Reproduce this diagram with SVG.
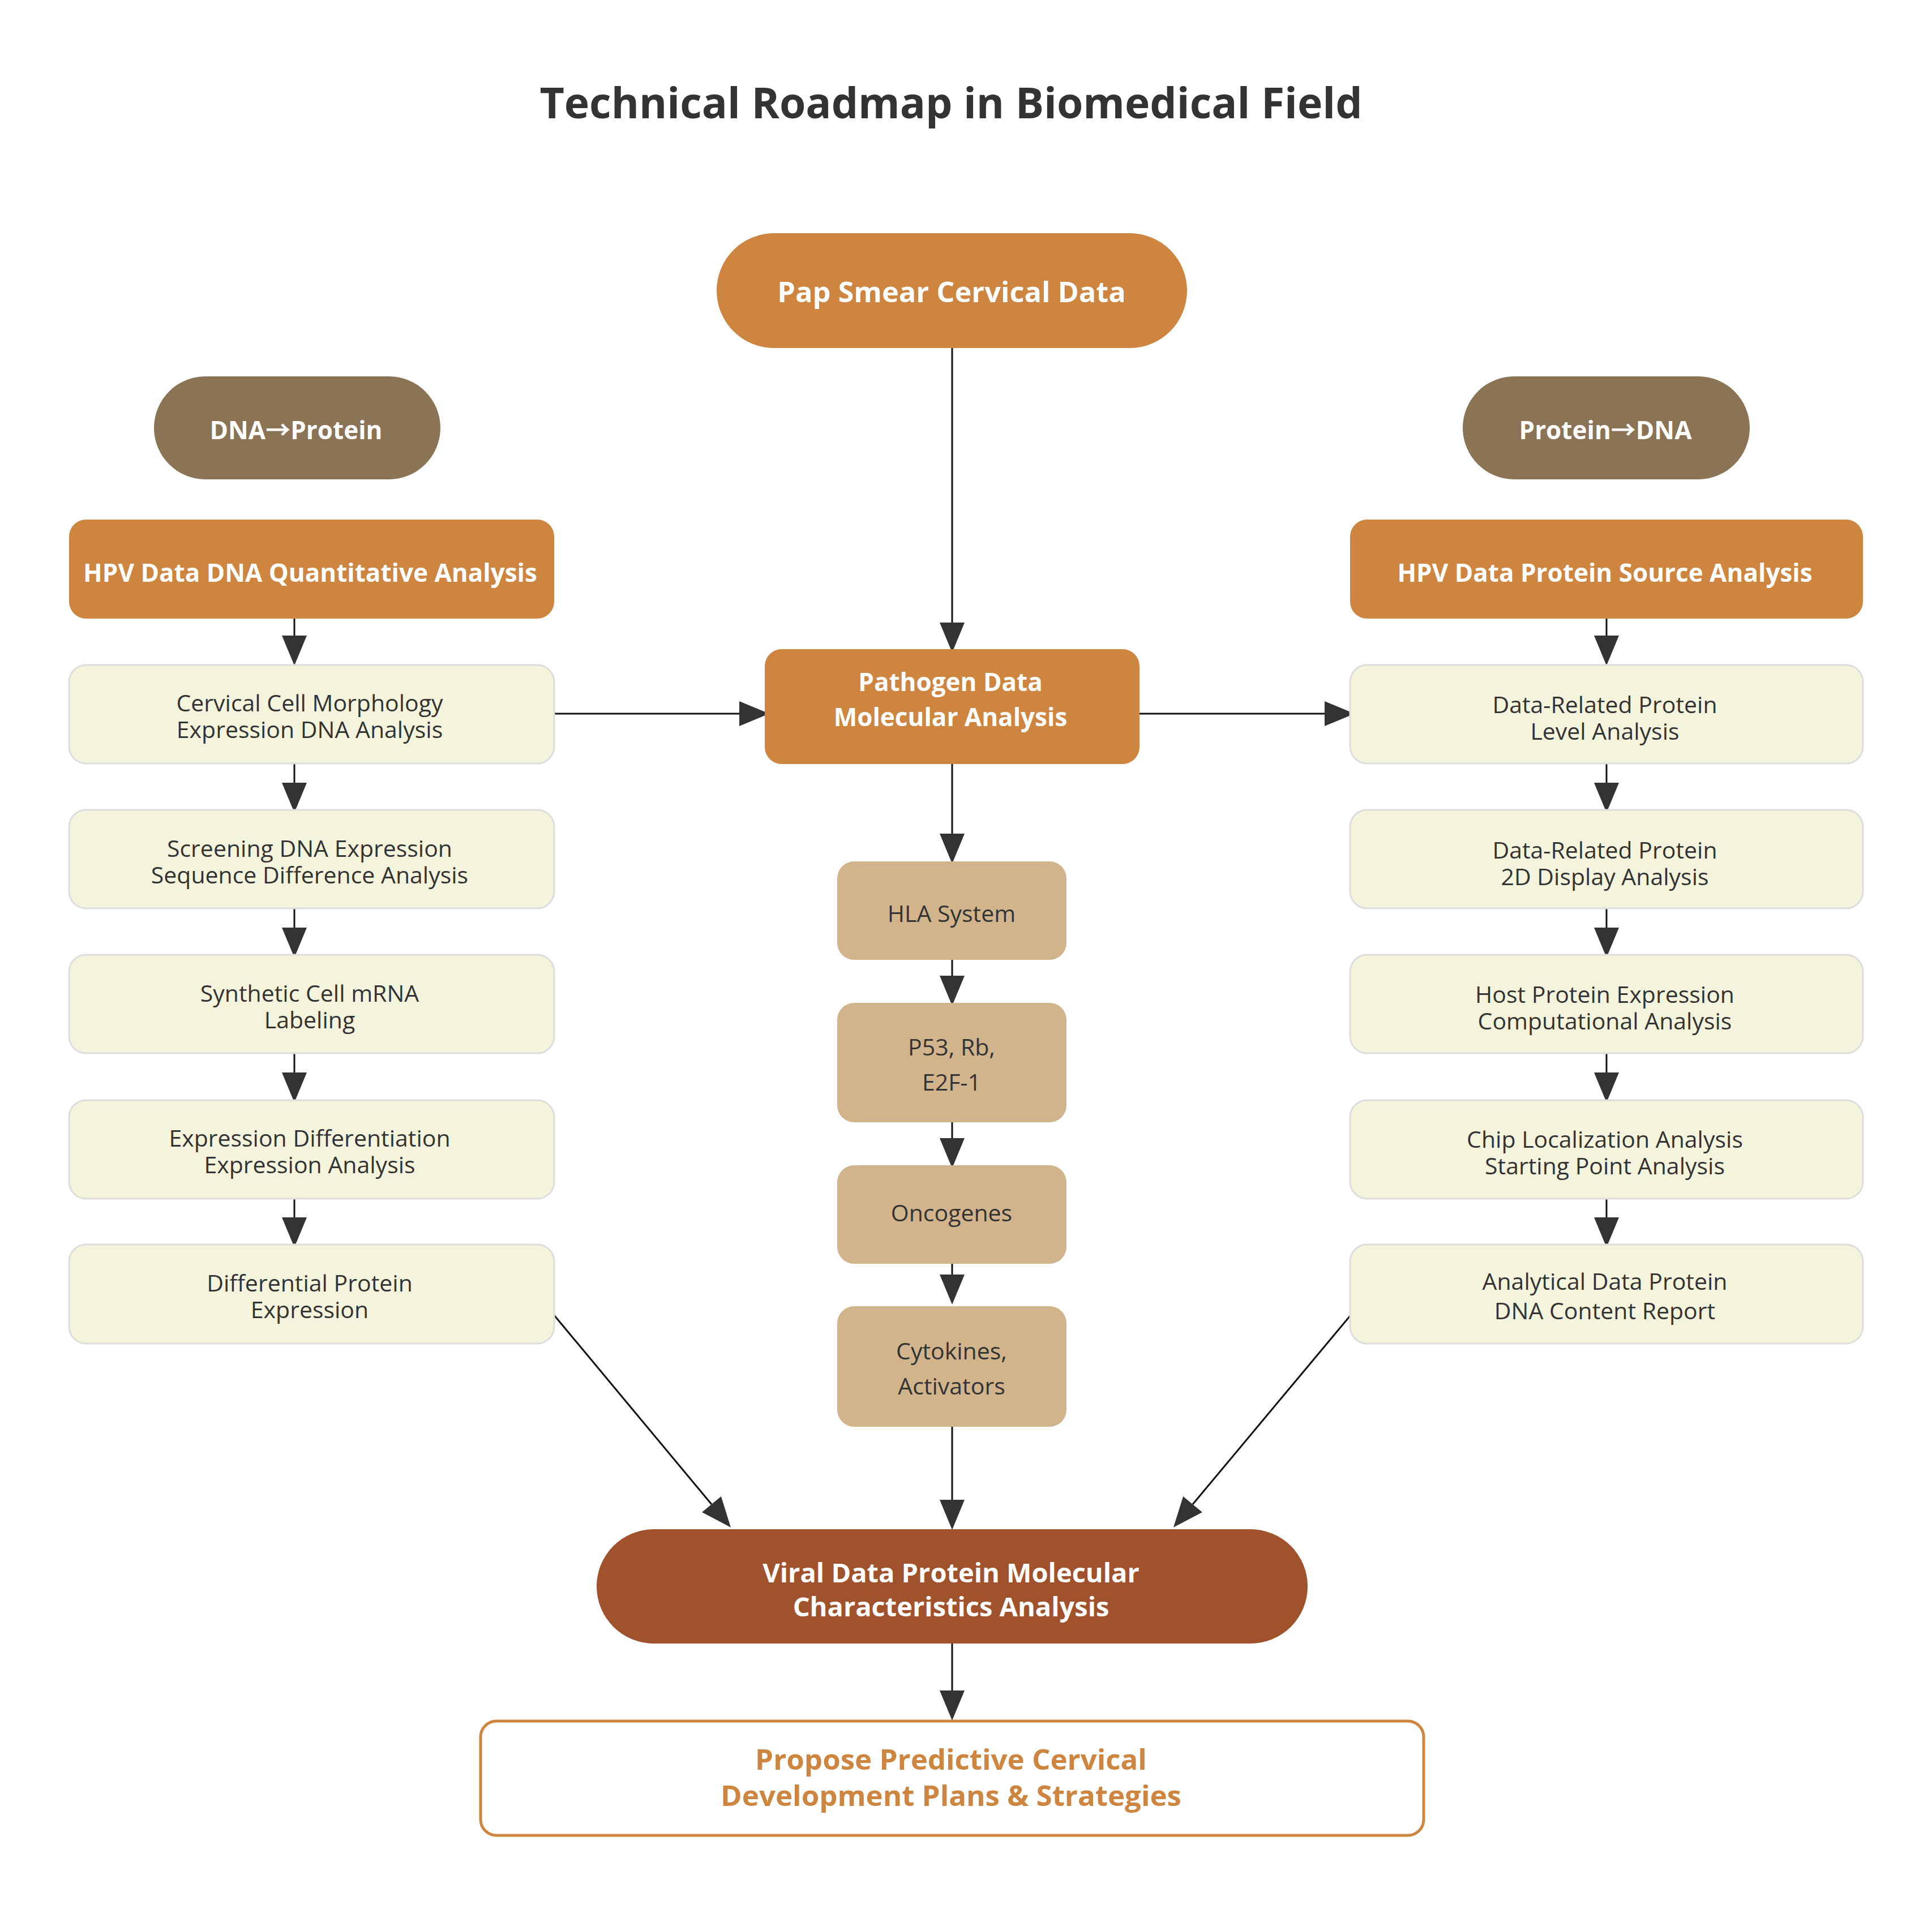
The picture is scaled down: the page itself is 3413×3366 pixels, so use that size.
<svg xmlns="http://www.w3.org/2000/svg" width="3413" height="3366" viewBox="0 0 3413 3366">
<defs>
<marker id="ah" markerUnits="userSpaceOnUse" markerWidth="53" markerHeight="44" refX="0" refY="22" orient="auto" overflow="visible">
<path d="M0,0 L53,22 L0,44 Z" fill="#333333"/>
</marker>
<style>
text { font-family: "Open Sans", "Noto Sans", "Noto Sans CJK SC", sans-serif; text-anchor: middle; }
.title { font-size: 75px; font-weight: 700; fill: #333333; }
.hb { font-size: 44px; font-weight: 700; fill: #ffffff; }
.big { font-size: 50.5px; font-weight: 700; fill: #ffffff; }
.viral { font-size: 47px; font-weight: 700; fill: #ffffff; }
.body { font-size: 41px; fill: #333333; }
.prop { font-size: 51px; font-weight: 700; fill: #CD853F; }
.orange { fill: #CD853F; }
.brown { fill: #8B7355; }
.light { fill: #F4F4DC; stroke: #DDDDDD; stroke-width: 3; }
.tan { fill: #D2B48C; }
.sienna { fill: #A0522D; }
.outline { fill: #ffffff; stroke: #CD853F; stroke-width: 5; }
#connectors line { stroke: #111111; stroke-width: 3; marker-end: url(#ah); }
</style>
</defs>
<rect x="0" y="0" width="3413" height="3366" fill="#ffffff"/>
<text class="title" x="1680" y="209">Technical Roadmap in Biomedical Field</text>

<g id="connectors">
<line x1="1682" y1="615" x2="1682" y2="1100"/>
<line x1="1682" y1="1350" x2="1682" y2="1473"/>
<line x1="1682" y1="1696" x2="1682" y2="1724"/>
<line x1="1682" y1="1983" x2="1682" y2="2011"/>
<line x1="1682" y1="2233" x2="1682" y2="2252"/>
<line x1="1682" y1="2521" x2="1682" y2="2650"/>
<line x1="1682" y1="2904" x2="1682" y2="2987"/>
<line x1="520" y1="1093" x2="520" y2="1123"/>
<line x1="520" y1="1349" x2="520" y2="1383"/>
<line x1="520" y1="1605" x2="520" y2="1639"/>
<line x1="520" y1="1861" x2="520" y2="1895"/>
<line x1="520" y1="2118" x2="520" y2="2151"/>
<line x1="2838" y1="1093" x2="2838" y2="1123"/>
<line x1="2838" y1="1349" x2="2838" y2="1383"/>
<line x1="2838" y1="1605" x2="2838" y2="1639"/>
<line x1="2838" y1="1861" x2="2838" y2="1895"/>
<line x1="2838" y1="2118" x2="2838" y2="2151"/>
<line x1="979" y1="1261" x2="1306" y2="1261"/>
<line x1="2013" y1="1261" x2="2340" y2="1261"/>
<line x1="979" y1="2324" x2="1257" y2="2658"/>
<line x1="2385" y1="2325" x2="2107" y2="2658"/>
</g>

<g id="pap"><rect class="orange" x="1266" y="412" width="831" height="203" rx="101.5"/><text class="big" x="1681" y="534">Pap Smear Cervical Data</text></g>
<g id="dna-protein"><rect class="brown" x="272" y="665" width="506" height="182" rx="91"/><text class="hb" x="523" y="776">DNA→Protein</text></g>
<g id="protein-dna"><rect class="brown" x="2584" y="665" width="507" height="182" rx="91"/><text class="hb" x="2836" y="776">Protein→DNA</text></g>
<g id="hpv-dna"><rect class="orange" x="122" y="918" width="857" height="175" rx="30"/><text class="hb" x="548" y="1028">HPV Data DNA Quantitative Analysis</text></g>
<g id="hpv-protein"><rect class="orange" x="2385" y="918" width="906" height="175" rx="30"/><text class="hb" x="2835" y="1028">HPV Data Protein Source Analysis</text></g>
<g id="pathogen"><rect class="orange" x="1351" y="1147" width="662" height="203" rx="30"/><text class="hb" x="1679" y="1221">Pathogen Data<tspan x="1679" dy="62">Molecular Analysis</tspan></text></g>

<g id="l1"><rect class="light" x="122" y="1175" width="857" height="174" rx="30"/><text class="body" x="547" y="1257">Cervical Cell Morphology<tspan x="547" dy="47">Expression DNA Analysis</tspan></text></g>
<g id="l2"><rect class="light" x="122" y="1431" width="857" height="174" rx="30"/><text class="body" x="547" y="1514">Screening DNA Expression<tspan x="547" dy="47">Sequence Difference Analysis</tspan></text></g>
<g id="l3"><rect class="light" x="122" y="1687" width="857" height="174" rx="30"/><text class="body" x="547" y="1770">Synthetic Cell mRNA<tspan x="547" dy="47">Labeling</tspan></text></g>
<g id="l4"><rect class="light" x="122" y="1944" width="857" height="174" rx="30"/><text class="body" x="547" y="2026">Expression Differentiation<tspan x="547" dy="47">Expression Analysis</tspan></text></g>
<g id="l5"><rect class="light" x="122" y="2199" width="857" height="175" rx="30"/><text class="body" x="547" y="2282">Differential Protein<tspan x="547" dy="47">Expression</tspan></text></g>

<g id="r1"><rect class="light" x="2385" y="1175" width="906" height="174" rx="30"/><text class="body" x="2835" y="1260">Data-Related Protein<tspan x="2835" dy="47">Level Analysis</tspan></text></g>
<g id="r2"><rect class="light" x="2385" y="1431" width="906" height="174" rx="30"/><text class="body" x="2835" y="1517">Data-Related Protein<tspan x="2835" dy="47">2D Display Analysis</tspan></text></g>
<g id="r3"><rect class="light" x="2385" y="1687" width="906" height="174" rx="30"/><text class="body" x="2835" y="1772">Host Protein Expression<tspan x="2835" dy="47">Computational Analysis</tspan></text></g>
<g id="r4"><rect class="light" x="2385" y="1944" width="906" height="174" rx="30"/><text class="body" x="2835" y="2028">Chip Localization Analysis<tspan x="2835" dy="47">Starting Point Analysis</tspan></text></g>
<g id="r5"><rect class="light" x="2385" y="2199" width="906" height="175" rx="30"/><text class="body" x="2835" y="2279">Analytical Data Protein<tspan x="2835" dy="52">DNA Content Report</tspan></text></g>

<g id="hla"><rect class="tan" x="1479" y="1522" width="405" height="174" rx="30"/><text class="body" x="1681" y="1629">HLA System</text></g>
<g id="p53"><rect class="tan" x="1479" y="1772" width="405" height="211" rx="30"/><text class="body" x="1681" y="1865">P53, Rb,<tspan x="1681" dy="62">E2F-1</tspan></text></g>
<g id="onco"><rect class="tan" x="1479" y="2059" width="405" height="174" rx="30"/><text class="body" x="1681" y="2158">Oncogenes</text></g>
<g id="cyto"><rect class="tan" x="1479" y="2308" width="405" height="213" rx="30"/><text class="body" x="1681" y="2402">Cytokines,<tspan x="1681" dy="62">Activators</tspan></text></g>

<g id="viral"><rect class="sienna" x="1054" y="2702" width="1256" height="202" rx="101"/><text class="viral" x="1680" y="2796">Viral Data Protein Molecular<tspan x="1680" dy="60">Characteristics Analysis</tspan></text></g>
<g id="propose"><rect class="outline" x="849" y="3041" width="1666" height="202" rx="28"/><text class="prop" x="1680" y="3127">Propose Predictive Cervical<tspan x="1680" dy="64">Development Plans &amp; Strategies</tspan></text></g>
</svg>
